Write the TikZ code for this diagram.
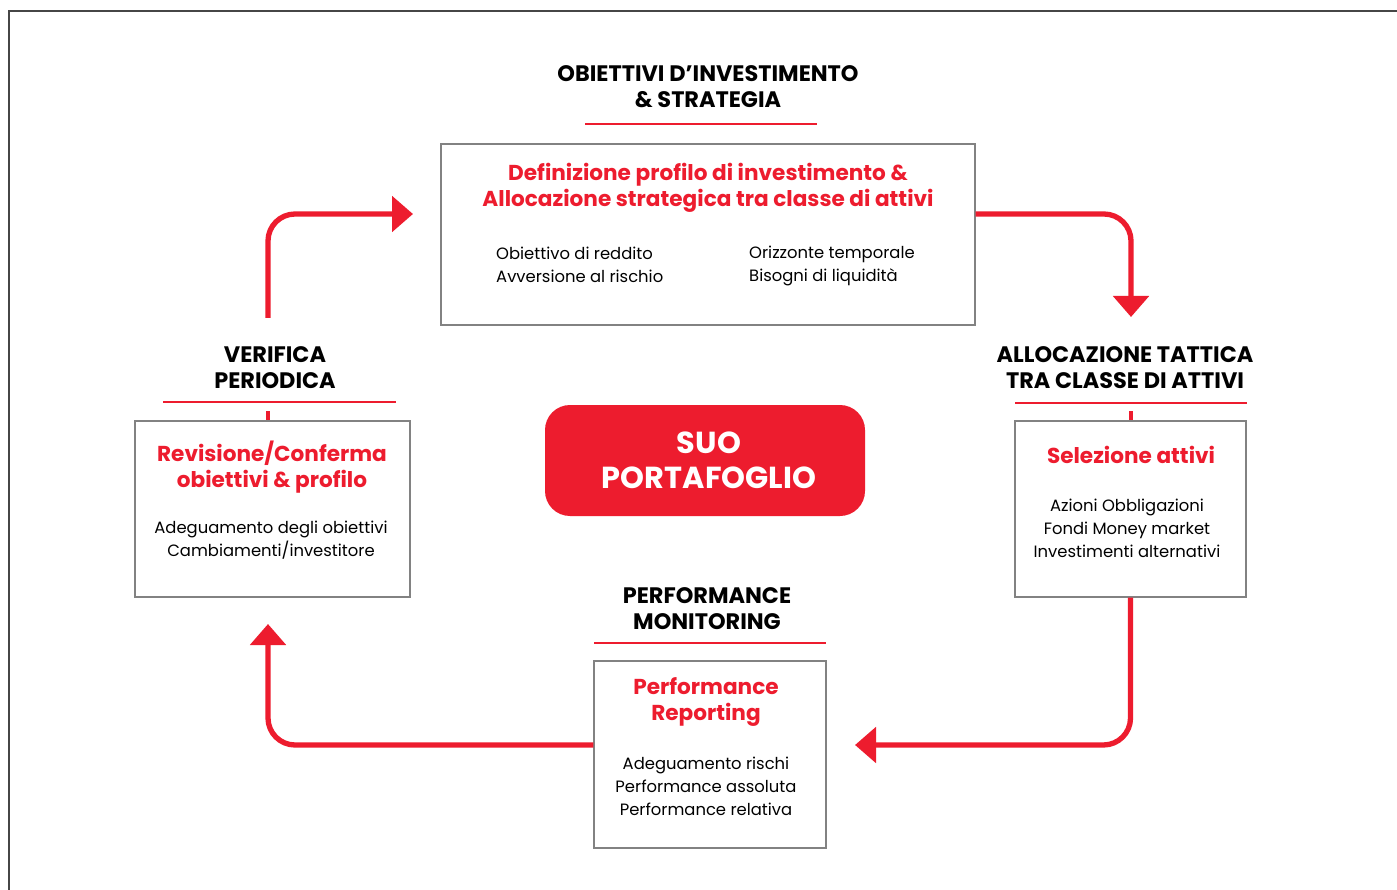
\documentclass[tikz,border=0pt]{standalone}
\usepackage{fontspec}
\setmainfont{Poppins}
\usetikzlibrary{arrows.meta}
\definecolor{rd}{RGB}{237,28,46}
\definecolor{framec}{RGB}{70,70,70}
\definecolor{bx}{RGB}{130,130,130}
\begin{document}
\begin{tikzpicture}[x=1pt,y=-1pt,
 box/.style={draw=bx,line width=1.3pt,inner sep=0pt},
 head/.style={font=\fontsize{22.4}{26}\selectfont\bfseries,align=center,text=black,inner sep=0pt},
 rtitle/.style={font=\fontsize{21.6}{26}\selectfont\bfseries,align=center,text=rd,inner sep=0pt},
 body/.style={font=\fontsize{16.4}{23}\selectfont,align=center,inner sep=0pt},
 flow/.style={draw=rd,line width=5.3pt,rounded corners=27pt,-{Triangle[length=21pt,width=35pt]}},
 uline/.style={draw=rd,line width=2.5pt},
 tickline/.style={draw=rd,line width=4pt}]
\useasboundingbox (0,0) rectangle (1397,890);
\fill[white] (0,0) rectangle (1397,890);
\draw[framec,line width=2pt] (9,890) -- (9,11) -- (1397,11);

% boxes
\node[box,minimum width=534pt,minimum height=181pt] (top) at (708,234.5) {};
\node[box,minimum width=275pt,minimum height=176pt] (left) at (272.5,509) {};
\node[box,minimum width=231pt,minimum height=176pt] (right) at (1130.5,509) {};
\node[box,minimum width=232pt,minimum height=187pt] (bottom) at (710,754.5) {};
\node[fill=rd,rounded corners=25pt,minimum width=320pt,minimum height=111pt,inner sep=0pt] (center) at (705,460.5) {};
\node[font=\fontsize{30.4}{35}\selectfont\bfseries,text=white,align=center,inner sep=0pt] (centertxt) at (709,460.5) {SUO\\PORTAFOGLIO};

% headings
\node[head] (h1) at (708,86.5) {OBIETTIVI D’INVESTIMENTO\\\& STRATEGIA};
\node[head] (h2) at (1125,368) {ALLOCAZIONE TATTICA\\TRA CLASSE DI ATTIVI};
\node[head] (h3) at (707,608.5) {PERFORMANCE\\MONITORING};
\node[head] (h4) at (275,368) {VERIFICA\\PERIODICA};

% underlines
\coordinate (u1a) at (585,124); \coordinate (u1b) at (817,124);
\coordinate (u2a) at (1015,403); \coordinate (u2b) at (1247,403);
\coordinate (u3a) at (594,643); \coordinate (u3b) at (826,643);
\coordinate (u4a) at (163,402); \coordinate (u4b) at (396,402);
\draw[uline] (u1a) -- (u1b);
\draw[uline] (u2a) -- (u2b);
\draw[uline] (u3a) -- (u3b);
\draw[uline] (u4a) -- (u4b);
\coordinate (t2) at (1131,411); \coordinate (t4) at (268,411);
\draw[tickline] (t2) -- (t2 |- right.north);
\draw[tickline] (t4) -- (t4 |- left.north);

% box texts
\node[rtitle] (ttop) at (708,188) {Definizione profilo di investimento \&\\Allocazione strategica tra classe di attivi};
\node[body,anchor=west,align=left] (btl) at (496,264.5) {Obiettivo di reddito\\Avversione al rischio};
\node[body,anchor=west,align=left] (btr) at (749,265.5) {Orizzonte temporale\\Bisogni di liquidità};

\node[rtitle] (tleft) at (272,467.5) {Revisione/Conferma\\obiettivi \& profilo};
\node[body] (bleft) at (271,540.5) {Adeguamento degli obiettivi\\Cambiamenti/investitore};

\node[rtitle] (tright) at (1131,454.5) {Selezione attivi};
\node[body] (bright) at (1127,528) {Azioni Obbligazioni\\Fondi Money market\\Investimenti alternativi};

\node[rtitle] (tbottom) at (706,702) {Performance\\Reporting};
\node[body] (bbottom) at (706,786) {Adeguamento rischi\\Performance assoluta\\Performance relativa};

% flow arrows
\coordinate (s1) at (268,318);
\coordinate (e1) at (413,214);
\coordinate (e2) at (1131,317);
\coordinate (e3) at (855,745);
\coordinate (e4) at (268,624);
\draw[flow] (s1) |- (e1);
\draw[flow] (top.east |- e1) -| (e2);
\draw[flow] (right.south) |- (e3);
\draw[flow] (bottom.west |- e3) -| (e4);
\end{tikzpicture}
\end{document}
